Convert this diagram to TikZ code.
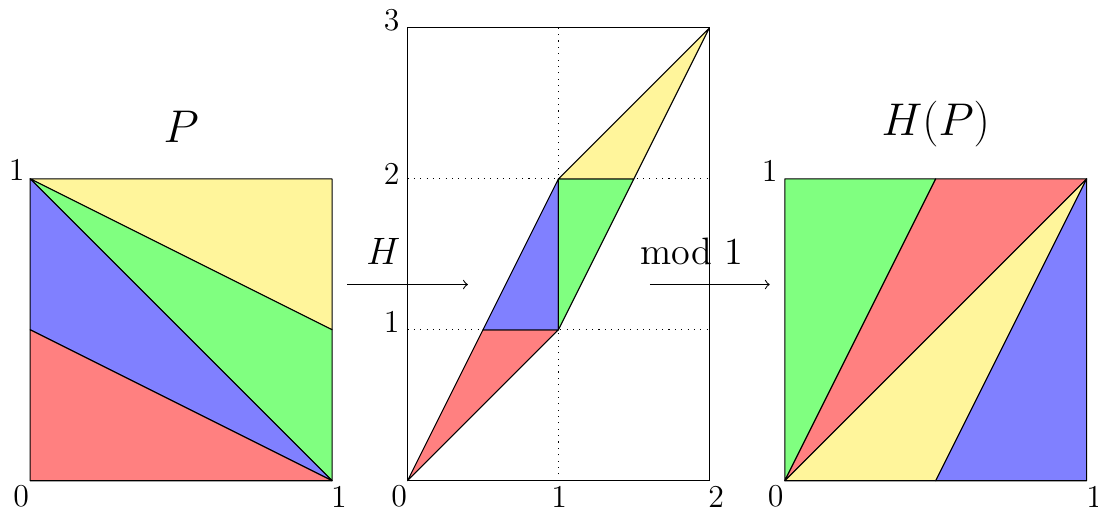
\documentclass[tikz,border=0pt]{standalone}
\usepackage{xcolor}
\definecolor{pyel}{RGB}{255,245,155}
\definecolor{pred}{RGB}{255,128,128}
\definecolor{pgrn}{RGB}{128,255,128}
\definecolor{pblu}{RGB}{128,128,255}
\begin{document}
\begin{tikzpicture}[
  piece/.style={draw=black, line width=0.4pt, line join=round},
  lab/.style={inner sep=0pt, anchor=center, font=\large},
  ttl/.style={inner sep=0pt, anchor=base, font=\LARGE},
  alab/.style={inner sep=0pt, anchor=base, font=\Large},
  gridline/.style={dotted, line width=0.4pt},
  maparrow/.style={->, line width=0.4pt}
]
\useasboundingbox (-0.4,-0.4) rectangle (14.15,6.37);

% ---------- left square P ----------
\begin{scope}[x=4cm,y=4cm]
  \coordinate (La) at (0,0);
  \coordinate (Lb) at (1,0);
  \coordinate (Lc) at (1,1);
  \coordinate (Ld) at (0,1);
  \coordinate (Le) at (1,0.5);
  \coordinate (Lf) at (0,0.5);
  \fill[pyel,piece] (Ld) -- (Lc) -- (Le) -- cycle;
  \fill[pgrn,piece] (Ld) -- (Le) -- (Lb) -- cycle;
  \fill[pblu,piece] (Ld) -- (Lb) -- (Lf) -- cycle;
  \fill[pred,piece] (Lf) -- (Lb) -- (La) -- cycle;
\end{scope}
\node[lab] (L0) at (-0.12,-0.21) {0};
\node[lab] (L1x) at (4.09,-0.21) {1};
\node[lab] (L1y) at (-0.18,4.12) {1};
\node[ttl] (Pt) at (2,4.48) {$P$};

% ---------- middle H(P) unfolded ----------
\begin{scope}[shift={(5,0)},x=2cm,y=2cm]
  \coordinate (M00) at (0,0);
  \coordinate (M20) at (2,0);
  \coordinate (M23) at (2,3);
  \coordinate (M03) at (0,3);
  \coordinate (M10) at (1,0);
  \coordinate (M13) at (1,3);
  \coordinate (M01) at (0,1);
  \coordinate (M21) at (2,1);
  \coordinate (M02) at (0,2);
  \coordinate (M22) at (2,2);
  \coordinate (Mh1) at (0.5,1);
  \coordinate (M11) at (1,1);
  \coordinate (M12) at (1,2);
  \coordinate (Mh2) at (1.5,2);
  \draw[gridline] (M10) -- (M13);
  \draw[gridline] (M01) -- (M21);
  \draw[gridline] (M02) -- (M22);
  \draw[line width=0.4pt] (M00) rectangle (M23);
  \fill[pred,piece] (M00) -- (M11) -- (Mh1) -- cycle;
  \fill[pblu,piece] (Mh1) -- (M11) -- (M12) -- cycle;
  \fill[pgrn,piece] (M11) -- (M12) -- (Mh2) -- cycle;
  \fill[pyel,piece] (M12) -- (Mh2) -- (M23) -- cycle;
\end{scope}
\node[lab] (M0l) at (4.89,-0.21) {0};
\node[lab] (M1l) at (7.01,-0.21) {1};
\node[lab] (M2l) at (9.09,-0.21) {2};
\node[lab] (My1) at (4.79,2.11) {1};
\node[lab] (My2) at (4.79,4.07) {2};
\node[lab] (My3) at (4.79,6.10) {3};

% ---------- right square H(P) ----------
\begin{scope}[shift={(10,0)},x=4cm,y=4cm]
  \coordinate (Ra) at (0,0);
  \coordinate (Rb) at (1,0);
  \coordinate (Rc) at (1,1);
  \coordinate (Rd) at (0,1);
  \coordinate (Re) at (0.5,1);
  \coordinate (Rf) at (0.5,0);
  \fill[pgrn,piece] (Ra) -- (Rd) -- (Re) -- cycle;
  \fill[pred,piece] (Ra) -- (Re) -- (Rc) -- cycle;
  \fill[pyel,piece] (Ra) -- (Rc) -- (Rf) -- cycle;
  \fill[pblu,piece] (Rf) -- (Rc) -- (Rb) -- cycle;
\end{scope}
\node[lab] (R0) at (9.88,-0.21) {0};
\node[lab] (R1x) at (14.1,-0.21) {1};
\node[lab] (R1y) at (9.80,4.11) {1};
\node[ttl] (HPt) at (12,4.58) {$H(P)$};

% ---------- arrows ----------
\coordinate (hA) at (4.20,2.60);
\coordinate (hB) at (5.80,2.60);
\coordinate (mA) at (8.21,2.60);
\coordinate (mB) at (9.80,2.60);
\draw[maparrow] (hA) -- (hB);
\draw[maparrow] (mA) -- (mB);
\node[alab] (Hl) at (4.68,2.86) {$H$};
\node[alab] (Ml) at (8.77,2.86) {mod 1};
\end{tikzpicture}
\end{document}
